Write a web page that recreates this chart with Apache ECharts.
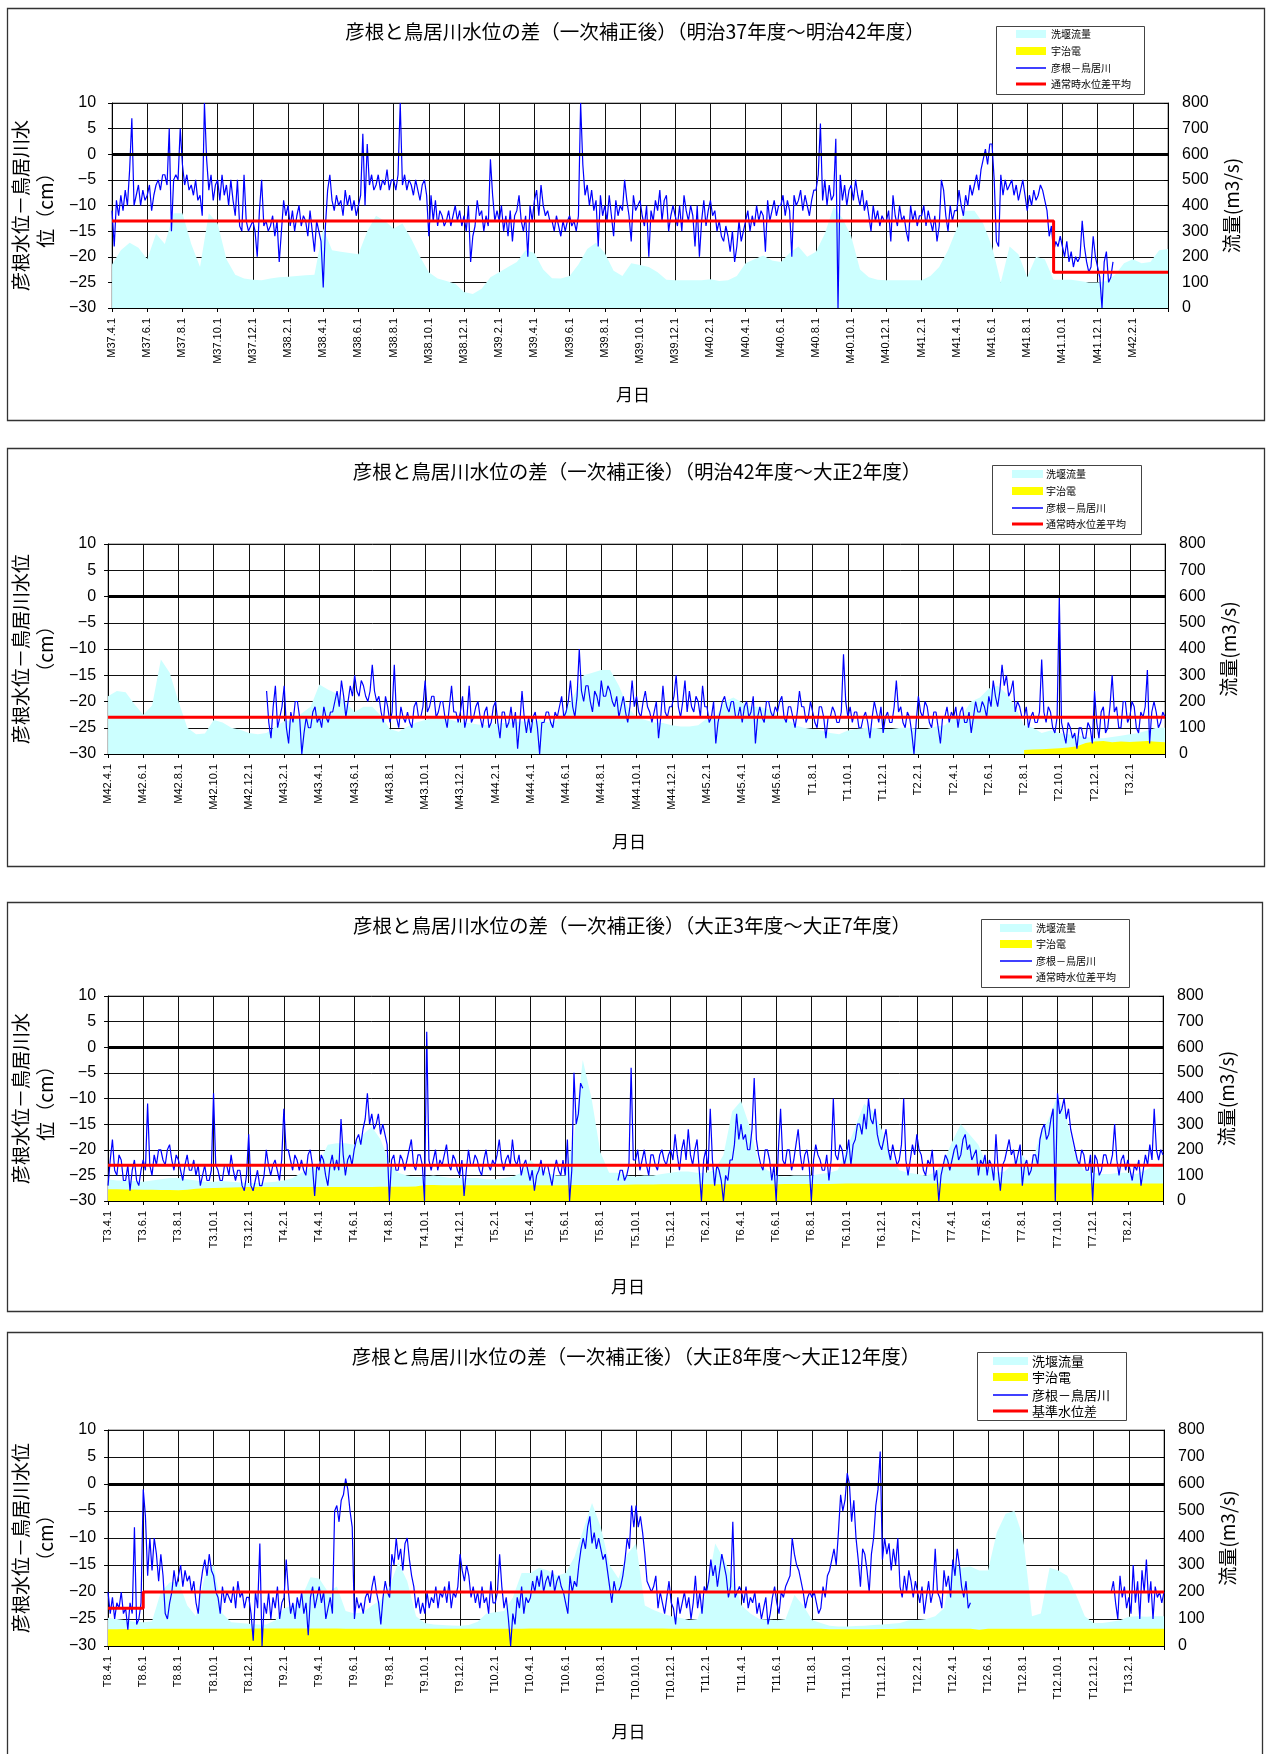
<!DOCTYPE html>
<html>
<head>
<meta charset="utf-8">
<script src="https://cdn.jsdelivr.net/npm/echarts@6/dist/echarts.min.js"></script>
<style>
html,body{margin:0;padding:0;background:#fff}
#chart{width:1268px;height:1754px}
</style>
</head>
<body>
<div id="chart"></div>
<script>
// ---------------------------------------------------------------
// Tick labels (one every two months) for each five-year period
// ---------------------------------------------------------------
const ticks1 = ['M37.4.1','M37.6.1','M37.8.1','M37.10.1','M37.12.1','M38.2.1','M38.4.1','M38.6.1','M38.8.1','M38.10.1','M38.12.1','M39.2.1','M39.4.1','M39.6.1','M39.8.1','M39.10.1','M39.12.1','M40.2.1','M40.4.1','M40.6.1','M40.8.1','M40.10.1','M40.12.1','M41.2.1','M41.4.1','M41.6.1','M41.8.1','M41.10.1','M41.12.1','M42.2.1'];
const ticks2 = ['M42.4.1','M42.6.1','M42.8.1','M42.10.1','M42.12.1','M43.2.1','M43.4.1','M43.6.1','M43.8.1','M43.10.1','M43.12.1','M44.2.1','M44.4.1','M44.6.1','M44.8.1','M44.10.1','M44.12.1','M45.2.1','M45.4.1','M45.6.1','T1.8.1','T1.10.1','T1.12.1','T2.2.1','T2.4.1','T2.6.1','T2.8.1','T2.10.1','T2.12.1','T3.2.1'];
const ticks3 = ['T3.4.1','T3.6.1','T3.8.1','T3.10.1','T3.12.1','T4.2.1','T4.4.1','T4.6.1','T4.8.1','T4.10.1','T4.12.1','T5.2.1','T5.4.1','T5.6.1','T5.8.1','T5.10.1','T5.12.1','T6.2.1','T6.4.1','T6.6.1','T6.8.1','T6.10.1','T6.12.1','T7.2.1','T7.4.1','T7.6.1','T7.8.1','T7.10.1','T7.12.1','T8.2.1'];
const ticks4 = ['T8.4.1','T8.6.1','T8.8.1','T8.10.1','T8.12.1','T9.2.1','T9.4.1','T9.6.1','T9.8.1','T9.10.1','T9.12.1','T10.2.1','T10.4.1','T10.6.1','T10.8.1','T10.10.1','T10.12.1','T11.2.1','T11.4.1','T11.6.1','T11.8.1','T11.10.1','T11.12.1','T12.2.1','T12.4.1','T12.6.1','T12.8.1','T12.10.1','T12.12.1','T13.2.1'];

// ---------------------------------------------------------------
// 彦根水位－鳥居川水位 (cm): eight readings per month (one row = six months),
// last entry = period end
// ---------------------------------------------------------------
const diff1 = [
  -11,-18,-9,-12,-8,-11,-7,-10, -3,7,-10,-8,-6,-10,-7,-9, -8,-6,-11,-8,-6,-5,-7,-4, -4,-6,5,-15,-5,-4,-5,5, -2,-6,-4,-7,-6,-8,-5,-9, -8,-12,10,-1,-7,-4,-9,-6,
  -5,-9,-4,-8,-6,-10,-5,-9, -12,-5,-14,-15,-4,-13,-15,-14, -13,-15,-20,-11,-5,-14,-13,-15, -14,-12,-16,-13,-21,-15,-9,-12, -10,-14,-11,-15,-12,-10,-14,-12, -13,-16,-11,-15,-19,-13,-15,-17,
  -26,-14,-7,-4,-9,-11,-8,-10, -9,-12,-7,-10,-8,-11,-9,-12, -10,-8,4,-10,2,-6,-4,-7, -6,-4,-7,-5,-6,-3,-7,-5, -5,-7,-4,10,-6,-4,-7,-5, -6,-8,-5,-7,-9,-6,-5,-8,
  -16,-8,-13,-9,-14,-11,-12,-14, -13,-11,-14,-12,-10,-13,-11,-14, -12,-15,-10,-21,-16,-14,-9,-12, -11,-15,-12,-14,-1,-8,-13,-11, -13,-10,-15,-12,-16,-11,-17,-12, -11,-8,-13,-15,-12,-20,-10,-13,
  -9,-7,-12,-6,-10,-12,-11,-13, -13,-15,-12,-14,-16,-13,-15,-13, -12,-14,-13,-15,-12,10,-2,-8, -6,-10,-7,-11,-9,-18,-8,-12, -10,-13,-8,-12,-16,-9,-12,-10, -11,-5,-9,-12,-17,-8,-11,-10,
  -9,-12,-14,-10,-20,-11,-13,-9, -11,-7,-13,-9,-8,-15,-12,-10, -12,-14,-10,-15,-8,-11,-13,-10, -12,-18,-10,-20,-13,-9,-14,-11, -9,-12,-11,-15,-13,-16,-17,-14, -16,-19,-15,-21,-18,-13,-17,-15,
  -13,-11,-15,-12,-14,-10,-13,-11, -12,-19,-9,-13,-11,-9,-12,-10, -10,-8,-12,-9,-11,-20,-8,-10, -9,-7,-11,-8,-10,-12,-9,-7, -7,-4,6,-9,-5,-10,-6,-9, -8,3,-30,-4,-9,-6,-10,-7,
  -6,-9,-5,-8,-10,-7,-11,-9, -12,-15,-10,-13,-11,-14,-12,-13, -13,-11,-17,-8,-12,-14,-10,-13, -12,-15,-17,-10,-13,-11,-14,-12, -12,-10,-14,-11,-13,-15,-12,-17, -14,-5,-7,-12,-15,-10,-13,-11,
  -11,-7,-10,-12,-8,-10,-6,-8, -6,-4,-7,-3,-1,1,-2,2, 2,-5,-17,-18,-4,-8,-5,-7, -6,-5,-8,-6,-9,-7,-5,-8, -11,-8,-10,-7,-9,-8,-6,-7, -9,-11,-16,-14,-19,-17,-18,-16,
  -18,-20,-17,-21,-19,-22,-20,-21, -20,-13,-18,-21,-23,-22,-16,-20, -22,-24,-30,-21,-19,-25,-24,-21,
  null,null,null,null,null,null,null,null, null,null,null,null,null,null,null,null, null,null,null,null,null,null,null,null,
  null
];
const diff2 = [
  null,null,null,null,null,null,null,null, null,null,null,null,null,null,null,null, null,null,null,null,null,null,null,null, null,null,null,null,null,null,null,null, null,null,null,null,null,null,null,null, null,null,null,null,null,null,null,null,
  null,null,null,null,null,null,null,null, null,null,null,null,null,null,null,null, null,null,null,null,null,null,null,null, -18,-24,-27,-21,-17,-25,-23,-21, -17,-25,-28,-22,-24,-20,-20,-23, -30,-26,-23,-25,-25,-22,-21,-24,
  -23,-25,-21,-23,-24,-22,-22,-20, -18,-21,-16,-19,-23,-20,-17,-19, -15,-18,-19,-16,-17,-19,-20,-18, -13,-18,-20,-19,-22,-24,-19,-21, -24,-22,-13,-23,-25,-21,-23,-24, -22,-24,-25,-21,-20,-23,-23,-21,
  -16,-22,-21,-19,-19,-23,-22,-20, -20,-23,-25,-21,-17,-22,-22,-24, -22,-19,-25,-23,-17,-24,-23,-21, -20,-23,-25,-22,-21,-25,-24,-21, -20,-24,-27,-22,-22,-25,-24,-21, -25,-22,-29,-24,-18,-23,-26,-23,
  -26,-23,-22,-25,-30,-24,-24,-22, -22,-24,-25,-22,-23,-21,-19,-23, -22,-20,-16,-21,-23,-19,-10,-18, -20,-17,-17,-20,-22,-18,-19,-21, -16,-19,-19,-17,-18,-20,-21,-19, -23,-21,-19,-22,-24,-21,-16,-21,
  -19,-22,-23,-20,-18,-21,-22,-24, -22,-20,-27,-23,-17,-22,-23,-21, -21,-19,-15,-21,-23,-20,-16,-22, -18,-21,-22,-19,-20,-23,-17,-21, -21,-24,-23,-20,-28,-24,-22,-20, -19,-21,-22,-20,-20,-23,-23,-21,
  -24,-21,-20,-23,-22,-19,-28,-23, -21,-23,-24,-20,-20,-22,-23,-21, -22,-20,-19,-23,-24,-21,-21,-23, -25,-22,-18,-21,-21,-24,-23,-20, -22,-24,-25,-21,-21,-23,-27,-23, -23,-21,-22,-24,-24,-22,-11,-20,
  -23,-21,-24,-22,-22,-25,-25,-23, -22,-24,-27,-23,-20,-22,-24,-21, -26,-23,-22,-24,-24,-21,-16,-22, -21,-24,-25,-22,-23,-26,-30,-24, -19,-22,-23,-20,-21,-24,-25,-22, -22,-25,-28,-23,-23,-21,-24,-22,
  -23,-21,-25,-22,-21,-24,-24,-22, -26,-23,-20,-22,-22,-20,-21,-23, -19,-21,-16,-19,-21,-18,-13,-17, -15,-19,-18,-16,-22,-20,-21,-23, -23,-21,-25,-23,-22,-24,-24,-22, -12,-22,-24,-21,-22,-25,-26,-23,
  0,-24,-26,-28,-24,-25,-27,-26, -29,-25,-25,-27,-27,-24,-25,-28, -18,-24,-27,-22,-21,-26,-25,-21, -15,-22,-21,-25,-25,-20,-20,-24, -23,-20,-21,-25,-26,-22,-23,-21, -14,-28,-22,-20,-22,-25,-24,-22,
  -23
];
const diff3 = [
  -27,-22,-18,-24,-25,-21,-22,-26, -26,-23,-28,-24,-22,-26,-27,-24, -22,-24,-11,-23,-25,-21,-23,-20, -20,-22,-23,-20,-19,-22,-24,-21, -22,-24,-26,-23,-21,-24,-24,-22, -25,-23,-27,-25,-23,-26,-26,-24,
  -9,-23,-24,-26,-26,-23,-23,-25, -21,-24,-26,-24,-24,-27,-28,-25, -17,-27,-28,-26,-24,-27,-27,-25, -20,-23,-25,-23,-22,-24,-26,-22, -12,-20,-20,-22,-24,-21,-22,-24, -22,-24,-25,-21,-20,-23,-29,-23,
  -24,-21,-22,-25,-27,-23,-21,-24, -22,-24,-14,-21,-25,-22,-21,-23, -20,-18,-17,-19,-16,-14,-9,-15, -13,-16,-15,-13,-17,-15,-17,-19, -30,-22,-21,-24,-24,-21,-22,-24, -22,-20,-18,-23,-24,-21,-21,-23,
  -30,3,-22,-24,-22,-20,-24,-22, -23,-21,-19,-23,-24,-21,-22,-24, -25,-22,-29,-24,-20,-23,-23,-21, -22,-24,-25,-22,-20,-23,-24,-22, -23,-21,-18,-22,-24,-22,-21,-23, -18,-22,-23,-21,-25,-23,-22,-24,
  -26,-24,-28,-25,-24,-22,-25,-23, -23,-25,-27,-24,-22,-24,-25,-22, -25,-18,-30,-24,-5,-15,-13,-7, -8,null,null,null,null,null,null,null, null,null,null,null,null,null,null,null, -26,-24,-24,-26,-25,-23,-4,-22,
  -22,-20,-24,-22,-20,-23,-25,-21, -21,-23,-24,-21,-20,-22,-23,-21, -20,-22,-17,-21,-24,-20,-18,-22, -16,-21,-23,-20,-18,-24,-30,-22, -20,-24,-12,-22,-27,-23,-24,-26, -30,-25,-26,-22,-22,-19,-13,-18,
  -15,-18,-17,-20,-20,-16,-6,-18, -21,-23,-24,-20,-20,-22,-26,-23, -30,-20,-12,-22,-23,-20,-20,-24, -22,-19,-16,-21,-24,-21,-20,-23, -30,-22,-19,-21,-22,-24,-24,-21, -26,-22,-10,-21,-22,-19,-20,-23,
  -21,-18,-23,-19,-18,-15,-15,-17, -13,-16,-10,-14,-15,-12,-17,-19, -20,-18,-16,-20,-22,-19,-21,-23, -22,-19,-10,-22,-25,-22,-19,-21, -17,-20,-21,-24,-25,-22,-23,-20, -26,-24,-30,-25,-23,-21,-22,-24,
  -22,-20,-19,-22,-21,-18,-17,-20, -19,-22,-21,-20,-25,-22,-23,-21, -25,-22,-23,-26,-17,-24,-28,-23, -22,-20,-18,-21,-20,-23,-21,-19, -27,-23,-22,-25,-24,-21,-21,-23, -18,-16,-15,-18,-17,-14,-12,-30,
  -9,-13,-12,-10,-14,-12,-16,-18, -20,-22,-23,-20,-21,-24,-24,-21, -30,-21,-22,-25,-24,-21,-21,-23, -23,-21,-15,-22,-25,-22,-21,-24, -22,-24,-26,-23,-24,-22,-27,-24, -21,-23,-19,-22,-12,-20,-22,-20,
  -21
];
const diff4 = [
  -20,-24,-21,-25,-22,-23,-20,-24, -23,-27,-22,-24,-8,-26,-25,-22, -1,-6,-17,-10,-16,-10,-13,-18, -13,-17,-24,-25,-22,-20,-16,-19, -17,-15,-19,-16,-18,-17,-20,-18, -22,-24,-19,-16,-14,-17,-13,-16,
  -17,-20,-21,-24,-19,-22,-20,-21, -22,-19,-23,-18,-21,-20,-23,-21, -21,-24,-29,-20,-23,-11,-30,-22, -24,-20,-25,-21,-23,-19,-25,-22, -21,-14,-20,-24,-22,-25,-21,-23, -20,-24,-22,-28,-21,-19,-23,-21,
  -19,-22,-20,-25,-23,-21,-24,-5, -4,-7,-3,-2,1,-1,-5,-8, -25,-21,-23,-22,-24,-21,-20,-22, -19,-17,-20,-22,-26,-21,-18,-20, -21,-13,-15,-10,-14,-12,-16,-11, -10,-14,-17,-19,-23,-21,-24,-22,
  -24,-20,-23,-21,-22,-19,-23,-20, -21,-19,-22,-18,-23,-20,-21,-19, -13,-16,-18,-15,-17,-21,-19,-22, -20,-23,-19,-22,-21,-24,-18,-22, -22,-20,-13,-19,-23,-21,-25,-30, -24,-26,-21,-23,-19,-24,-21,-22,
  -21,-18,-20,-17,-19,-16,-20,-18, -17,-19,-16,-20,-18,-17,-19,-20, -22,-24,-17,-20,-18,-19,-15,-12, -10,-12,-8,-6,-11,-9,-12,-10, -12,-14,-13,-16,-19,-22,-18,-20, -20,-19,-17,-14,-10,-12,-4,-8,
  -4,-8,-6,-9,-13,-18,-19,-20, -19,-17,-23,-20,-22,-24,-21,-18, -22,-23,-26,-21,-24,-22,-20,-23, -21,-25,-22,-17,-23,-20,-24,-19, -20,-18,-14,-17,-15,-19,-16,-13, -15,-17,-21,-19,-7,-21,-20,-19,
  -20,-22,-19,-23,-21,-22,-20,-24, -22,-25,-23,-21,-26,-24,-21,-19, -22,-24,-20,-21,-19,-18,-17,-10, -13,-15,-16,-18,-20,-23,-21,-20, -21,-20,-22,-24,-23,-19,-21,-17, -16,-14,-12,-15,-9,-2,-5,-3,
  2,0,-7,-3,-10,-14,-19,-12, -13,-16,-20,-13,-10,-4,-1,6, -14,-10,-13,-11,-16,-12,-15,-10, -19,-21,-17,-20,-16,-18,-21,-18, -20,-22,-19,-24,-21,-18,-22,-20, -12,-20,-21,-23,-16,-19,-17,-21,
  -14,-17,-12,-15,-19,-21,-18,-23, -22,null,null,null,null,null,null,null, null,null,null,null,null,null,null,null, null,null,null,null,null,null,null,null, null,null,null,null,null,null,null,null, null,null,null,null,null,null,null,null,
  null,null,null,null,null,null,null,null, null,null,null,null,null,null,null,null, null,null,null,null,null,null,null,null, -20,-18,-22,-25,-17,-21,-19,-23, -21,-24,-15,-22,-18,-25,-16,-20, -14,-22,-18,-25,-19,-21,-20,-22,
  -20
];

// ---------------------------------------------------------------
// 洗堰流量 (m3/s): two readings per month, last entry = period end
// ---------------------------------------------------------------
const sluice1 = [
  170,225, 255,235, 190,290, 250,370, 370,250, 160,370, 330,190, 130,115, 110,108, 115,120, 122,125, 128,130,
  310,225, 220,215, 210,300, 360,340, 310,330, 270,200, 140,115, 105,95, 62,55, 75,120, 140,160, 180,225,
  215,150, 116,115, 125,170, 230,255, 215,145, 125,175, 168,160, 140,110, 108,108, 108,108, 112,105, 108,125,
  175,190, 205,185, 180,215, 240,200, 220,290, 395,350, 280,150, 120,110, 108,108, 108,108, 108,125, 160,225,
  310,380, 380,330, 240,100, 240,210, 120,200, 190,110, 110,110, 105,100, 100,105, 130,175, 190,175, 180,225,
  230
];
const sluice2 = [
  220,240, 235,190, 150,185, 360,310, 200,100, 75,78, 130,120, 100,92, 80,75, 80,105, 125,130, 155,180,
  265,245, 230,195, 160,180, 180,145, 95,85, 105,120, 130,140, 140,130, 120,118, 112,110, 115,118, 120,125,
  120,130, 120,130, 170,230, 300,310, 320,320, 260,180, 140,130, 120,118, 110,105, 105,110, 135,140, 200,215,
  195,180, 180,170, 145,135, 110,100, 95,90, 80,75, 90,95, 100,100, 95,95, 100,100, 95,95, 105,110,
  140,150, 200,215, 250,260, 230,180, 110,100, 80,90, 80,75, 70,65, 60,60, 65,70, 75,80, 90,100,
  100
];
const sluice3 = [
  85,80, 80,78, 75,80, 85,90, 90,85, 80,75, 75,78, 75,72, 70,70, 72,75, 80,90, 110,130,
  150,220, 225,225, 220,260, 290,240, 150,110, 100,95, 95,100, 95,90, 90,90, 90,85, 85,90, 95,110,
  160,130, 110,100, 100,250, 550,400, 190,110, 110,100, 95,100, 100,105, 110,115, 115,110, 110,120, 180,350,
  390,290, 150,120, 100,95, 100,100, 100,105, 110,120, 200,290, 380,350, 280,180, 120,110, 105,100, 110,150,
  230,300, 260,220, 140,110, 115,150, 180,130, 260,320, 410,330, 180,120, 110,105, 105,110, 110,105, 120,140,
  140
];
const sluice4 = [
  105,100, 95,90, 88,92, 200,235, 240,150, 110,260, 300,120, 88,85, 82,80, 80,95, 140,150, 180,255,
  250,200, 220,130, 120,125, 150,170, 220,310, 240,110, 85,80, 78,76, 75,78, 90,120, 125,130, 180,270,
  270,290, 280,260, 270,330, 430,530, 440,300, 250,340, 380,150, 133,120, 110,105, 96,100, 200,380, 320,250,
  150,120, 100,98, 95,100, 189,150, 96,85, 75,72, 72,74, 75,78, 80,82, 85,95, 96,100, 110,140,
  306,290, 294,280, 280,420, 490,500, 400,110, 120,290, 280,260, 190,110, 85,85, 90,95, 108,110, 108,110,
  110
];

// ---------------------------------------------------------------
// 宇治電 (m3/s): two readings per month, last entry = period end
// ---------------------------------------------------------------
const uji1 = [];
const uji2 = [
  null,null,null,null,null,null,null,null,null,null,null,null,null,null,null,null,null,null,null,null,null,null,null,null,
  null,null,null,null,null,null,null,null,null,null,null,null,null,null,null,null,null,null,null,null,null,null,null,null,
  null,null,null,null,null,null,null,null,null,null,null,null,null,null,null,null,null,null,null,null,null,null,null,null,
  null,null,null,null,null,null,null,null,null,null,null,null,null,null,null,null,null,null,null,null,null,null,null,null,
  null,null,null,null,null,null,null,null, 15,17, 18,20, 22,25, 30,42, 48,50, 45,48, 46,48, 50,47,
  45
];
const uji3 = [
  46,46, 45,45, 44,44, 43,43, 42,44, 48,50, 51,52, 53,54, 55,55, 55,55, 55,55, 55,55,
  55,55, 55,55, 55,55, 55,56, 56,56, 56,57, 62,62, 61,61, 61,61, 61,61, 61,61, 61,61,
  61,61, 61,61, 61,62, 62,62, 62,62, 62,63, 64,64, 64,65, 65,65, 65,65, 65,65, 65,65,
  65,65, 65,65, 65,66, 66,66, 66,66, 66,67, 68,68, 68,68, 68,68, 68,68, 68,68, 68,68,
  68,68, 68,68, 68,68, 68,68, 68,68, 68,68, 68,68, 68,68, 68,68, 68,68, 68,68, 68,68,
  68
];
const uji4 = [
  62,62, 63,63, 63,64, 64,64, 64,64, 64,64, 64,64, 64,64, 64,65, 65,65, 65,65, 65,65,
  65,65, 65,64, 64,64, 64,64, 64,64, 64,64, 64,64, 64,64, 64,64, 64,64, 64,64, 64,64,
  65,65, 65,65, 65,65, 65,65, 65,65, 65,65, 65,65, 65,65, 64,64, 64,64, 64,64, 64,64,
  64,64, 64,64, 64,64, 64,64, 64,64, 62,62, 62,62, 62,62, 63,63, 64,64, 64,64, 64,64,
  64,64, 64,60, 64,64, 64,64, 64,64, 64,64, 64,64, 64,64, 64,64, 64,64, 64,64, 64,64,
  64
];

// ---------------------------------------------------------------
// 通常時水位差平均 / 基準水位差 (cm) as [half-month index, level] steps
// ---------------------------------------------------------------
const avg1 = [[0,-13],[107,-13],[107,-23],[120,-23]];
const avg2 = [[0,-23],[120,-23]];
const avg3 = [[0,-23],[120,-23]];
const avg4 = [[0,-23],[4,-23],[4,-20],[120,-20]];
const zeroLevel = 0;

const titles = [
  '彦根と鳥居川水位の差（一次補正後）（明治37年度～明治42年度）',
  '彦根と鳥居川水位の差（一次補正後）（明治42年度～大正2年度）',
  '彦根と鳥居川水位の差（一次補正後）（大正3年度～大正7年度）',
  '彦根と鳥居川水位の差（一次補正後）（大正8年度～大正12年度）'
];

const JP = '"Noto Sans CJK JP", sans-serif';
const NUM = '"Liberation Sans", Arial, sans-serif';
const C_SLUICE = '#CCFFFF', C_UJI = '#FFFF00', C_DIFF = '#0000FF', C_AVG = '#FF0000';
const PER_TICK = 16;   // readings between two labelled ticks (two months)

const panels = [
  { title: titles[0], ticks: ticks1, diff: diff1, sluice: sluice1, uji: uji1, avg: avg1,
    avgName: '通常時水位差平均', leftName: '彦根水位－鳥居川水\n位（cm）',
    box: [7, 8, 1257, 412], grid: [98, 103, 1070, 205], titleXY: [635, 32], xNameY: 395,
    labelMargin: 16, leftGap: 44,
    legend: { x: 996, y: 26, w: 148, h: 68, swX: 1016, swW: 30, txX: 1051, rows: [34, 51, 68, 84], font: 10 } },
  { title: titles[1], ticks: ticks2, diff: diff2, sluice: sluice2, uji: uji2, avg: avg2,
    avgName: '通常時水位差平均', leftName: '彦根水位－鳥居川水位\n（cm）',
    box: [7, 448, 1257, 418], grid: [93, 544, 1072, 210], titleXY: [637, 472], xNameY: 842,
    labelMargin: 12, leftGap: 40,
    legend: { x: 992, y: 465, w: 149, h: 69, swX: 1012, swW: 31, txX: 1046, rows: [474, 491, 508, 524], font: 10 } },
  { title: titles[2], ticks: ticks3, diff: diff3, sluice: sluice3, uji: uji3, avg: avg3,
    avgName: '通常時水位差平均', leftName: '彦根水位－鳥居川水\n位（cm）',
    box: [7, 902, 1255, 409], grid: [93, 996, 1070, 205], titleXY: [632, 926], xNameY: 1287,
    labelMargin: 12, leftGap: 40,
    legend: { x: 981, y: 919, w: 148, h: 68, swX: 1000, swW: 32, txX: 1036, rows: [928, 944, 961, 977], font: 10 } },
  { title: titles[3], ticks: ticks4, diff: diff4, sluice: sluice4, uji: uji4, avg: avg4,
    avgName: '基準水位差', leftName: '彦根水位－鳥居川水位\n（cm）',
    box: [7, 1332, 1255, 440], grid: [93, 1430, 1071, 216], titleXY: [636, 1357], xNameY: 1732,
    labelMargin: 12, leftGap: 40,
    legend: { x: 977, y: 1352, w: 149, h: 68, swX: 993, swW: 35, txX: 1032, rows: [1361, 1377, 1395, 1411], font: 13 } }
];

const grid = [], xAxis = [], yAxis = [], series = [], graphic = [];

panels.forEach((p, i) => {
  const [gl, gt, gw, gh] = p.grid;
  grid.push({ left: gl, top: gt, width: gw, height: gh, show: true, borderColor: '#777', borderWidth: 1 });

  // one category per reading; every PER_TICK-th one carries a two-month tick label
  const readCats = p.diff.map((_, k) =>
    (k % PER_TICK === 0 && k / PER_TICK < p.ticks.length) ? p.ticks[k / PER_TICK] : '#' + k);
  const halfCats = p.sluice.map((_, k) => 'h' + k);

  xAxis.push({
    type: 'category', gridIndex: i, data: readCats, boundaryGap: false, position: 'bottom',
    axisLine: { show: true, onZero: false, lineStyle: { color: '#000', width: 1 } },
    axisTick: { show: true, interval: PER_TICK - 1, length: 4, lineStyle: { color: '#000' } },
    axisLabel: { interval: PER_TICK - 1, rotate: 90, margin: 10, fontSize: 11, fontFamily: NUM, color: '#000',
      formatter: v => (v.charAt(0) === '#') ? '' : v },
    splitLine: { show: true, interval: PER_TICK - 1, lineStyle: { color: '#111', width: 1 } }
  });
  xAxis.push({ type: 'category', gridIndex: i, data: halfCats, boundaryGap: false, show: false,
    axisLine: { onZero: false } });

  yAxis.push({
    type: 'value', gridIndex: i, position: 'left', min: -30, max: 10, interval: 5,
    axisLine: { show: true, lineStyle: { color: '#000' } },
    axisTick: { show: true, length: 4, lineStyle: { color: '#000' } },
    axisLabel: { fontSize: 16, fontFamily: NUM, color: '#000', margin: p.labelMargin,
      formatter: v => String(v).replace('-', '−') },
    splitLine: { show: true, lineStyle: { color: '#111', width: 1 } },
    name: p.leftName, nameLocation: 'middle', nameRotate: 90, nameGap: p.leftGap,
    nameTextStyle: { fontFamily: JP, fontSize: 19, lineHeight: 25, color: '#000' }
  });
  yAxis.push({
    type: 'value', gridIndex: i, position: 'right', min: 0, max: 800, interval: 100,
    axisLine: { show: true, lineStyle: { color: '#000' } },
    axisTick: { show: true, inside: true, length: 4, lineStyle: { color: '#000' } },
    axisLabel: { fontSize: 16, fontFamily: NUM, color: '#000', margin: 14 },
    splitLine: { show: false },
    name: '流量(m3/s)', nameLocation: 'middle', nameRotate: 90, nameGap: 54,
    nameTextStyle: { fontFamily: JP, fontSize: 19, color: '#000' }
  });

  series.push({ type: 'line', name: '洗堰流量', xAxisIndex: 2 * i + 1, yAxisIndex: 2 * i + 1,
    data: p.sluice, symbol: 'none', lineStyle: { opacity: 0 },
    areaStyle: { color: C_SLUICE, opacity: 1 }, z: 1, silent: true, animation: false });
  series.push({ type: 'line', name: '宇治電', xAxisIndex: 2 * i + 1, yAxisIndex: 2 * i + 1,
    data: p.uji, symbol: 'none', lineStyle: { opacity: 0 },
    areaStyle: { color: C_UJI, opacity: 1 }, z: 2, silent: true, animation: false });
  series.push({ type: 'line', name: '彦根－鳥居川', xAxisIndex: 2 * i, yAxisIndex: 2 * i,
    data: p.diff, symbol: 'none', connectNulls: false,
    lineStyle: { color: C_DIFF, width: 1.2 }, z: 3, silent: true, animation: false });
  series.push({ type: 'line', name: p.avgName, xAxisIndex: 2 * i + 1, yAxisIndex: 2 * i,
    data: p.avg, symbol: 'none', lineStyle: { color: C_AVG, width: 3 }, z: 4, silent: true, animation: false,
    markLine: { silent: true, symbol: ['none', 'none'], label: { show: false }, animation: false,
      lineStyle: { color: '#000', width: 3, type: 'solid' }, data: [{ yAxis: zeroLevel }] } });

  // panel frame, title and x-axis caption
  const [bx, by, bw, bh] = p.box;
  graphic.push({ type: 'rect', shape: { x: bx + 0.5, y: by + 0.5, width: bw, height: bh },
    style: { fill: 'none', stroke: '#333', lineWidth: 1.3 }, silent: true });
  graphic.push({ type: 'text', x: p.titleXY[0], y: p.titleXY[1],
    style: { text: p.title, font: '19.5px ' + JP, fill: '#000', align: 'center', verticalAlign: 'middle' } });
  graphic.push({ type: 'text', x: gl + gw / 2, y: p.xNameY,
    style: { text: '月日', font: '17px ' + JP, fill: '#000', align: 'center', verticalAlign: 'middle' } });

  // legend box
  const L = p.legend;
  graphic.push({ type: 'rect', shape: { x: L.x + 0.5, y: L.y + 0.5, width: L.w, height: L.h },
    style: { fill: '#fff', stroke: '#444', lineWidth: 1 }, silent: true });
  const items = [
    { label: '洗堰流量', kind: 'area', color: C_SLUICE },
    { label: '宇治電', kind: 'area', color: C_UJI },
    { label: '彦根－鳥居川', kind: 'line', color: C_DIFF, width: 1.5 },
    { label: p.avgName, kind: 'line', color: C_AVG, width: 3 }
  ];
  items.forEach((it, k) => {
    const cy = L.rows[k];
    if (it.kind === 'area') {
      graphic.push({ type: 'rect', shape: { x: L.swX, y: cy - 4, width: L.swW, height: 8 },
        style: { fill: it.color }, silent: true });
    } else {
      graphic.push({ type: 'line', shape: { x1: L.swX, y1: cy, x2: L.swX + L.swW, y2: cy },
        style: { stroke: it.color, lineWidth: it.width }, silent: true });
    }
    graphic.push({ type: 'text', x: L.txX, y: cy,
      style: { text: it.label, font: L.font + 'px ' + JP, fill: '#000', align: 'left', verticalAlign: 'middle' } });
  });
});

const chart = echarts.init(document.getElementById('chart'), null, { renderer: 'canvas', width: 1268, height: 1754 });
chart.setOption({
  animation: false,
  backgroundColor: '#fff',
  grid, xAxis, yAxis, series, graphic
});
</script>
</body>
</html>
